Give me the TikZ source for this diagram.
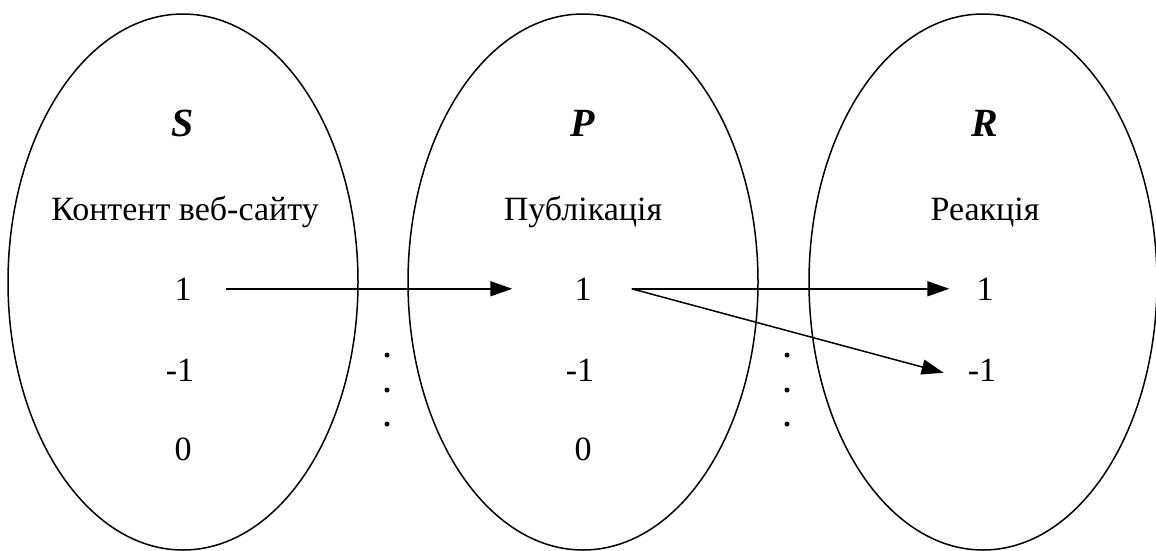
\documentclass[tikz,border=0pt]{standalone}
\usepackage{fontspec}
\setmainfont{Liberation Serif}
\newfontfamily\tnr{Liberation Serif}
\usetikzlibrary{arrows.meta,calc}
\begin{document}
\begin{tikzpicture}[x=1pt,y=-1pt,
  set/.style={line width=1.5pt},
  lbl/.style={inner sep=0pt,anchor=base,font=\tnr\fontsize{34}{40}\selectfont},
  ttl/.style={inner sep=0pt,anchor=base,font=\tnr\fontsize{40}{46}\selectfont\bfseries\itshape},
  arr/.style={line width=1.5pt,-{Triangle[length=22pt,width=15pt]}},
  dotm/.style={fill=black,circle,inner sep=0pt,minimum size=5pt}]
\useasboundingbox (0,0) rectangle (1156,550);
\fill[white] (0,0) rectangle (1156,550);
% sets
\draw[set] (183,282) ellipse [x radius=175,y radius=268];
\draw[set] (583,282) ellipse [x radius=175,y radius=268];
\draw[set] (983,282) ellipse [x radius=174,y radius=268];
% titles
\node[ttl] (S) at (183,136) {S};
\node[ttl] (P) at (583,136) {P};
\node[ttl] (R) at (985,136) {R};
\node[lbl] (ls) at (185,220) {Контент веб-сайту};
\node[lbl] (lp) at (583,220) {Публікація};
\node[lbl] (lr) at (985,220) {Реакція};
% values
\node[lbl] (s1) at (183,300) {1};
\node[lbl] (s2) at (180,381) {-1};
\node[lbl] (s3) at (183,460) {0};
\node[lbl] (p1) at (583,300) {1};
\node[lbl] (p2) at (580,381) {-1};
\node[lbl] (p3) at (583,460) {0};
\node[lbl] (r1) at (985,300) {1};
\node[lbl] (r2) at (982,381) {-1};
% dots
\node[dotm] (d1) at (387,355) {};
\node[dotm] (d2) at (387,390) {};
\node[dotm] (d3) at (387,424) {};
\node[dotm] (e1) at (787,355) {};
\node[dotm] (e2) at (787,390) {};
\node[dotm] (e3) at (787,424) {};
% arrows
\draw[arr] ([xshift=34pt]s1.east) -- ([xshift=-62pt]p1.west);
\draw[arr] ([xshift=40pt]p1.east) -- ([xshift=-27pt]r1.west);
\draw[arr] ([xshift=40pt]p1.east) -- ([xshift=-24pt,yshift=-3pt]r2.west);
\end{tikzpicture}
\end{document}
